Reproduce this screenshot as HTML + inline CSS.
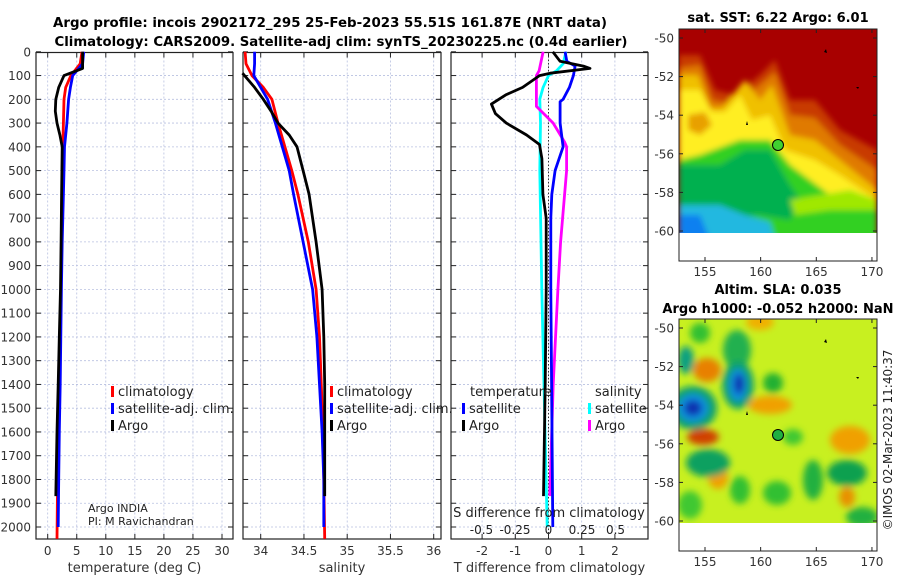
<!DOCTYPE html>
<html><head><meta charset="utf-8"><style>
html,body{margin:0;padding:0;background:#fff;}
svg{display:block;font-family:"DejaVu Sans","Liberation Sans",sans-serif;}
</style></head><body>
<svg id="fig" width="900" height="580" viewBox="0 0 900 580" xmlns="http://www.w3.org/2000/svg">
<defs>
<filter id="blur4" x="-20%" y="-20%" width="140%" height="140%"><feGaussianBlur stdDeviation="3"/></filter>
<filter id="blur6" x="-30%" y="-30%" width="160%" height="160%"><feGaussianBlur stdDeviation="3.5"/></filter>
<clipPath id="clipTop"><rect x="679" y="29" width="198" height="204"/></clipPath>
<clipPath id="clipBot"><rect x="679" y="319" width="198" height="204"/></clipPath>
</defs>
<text x="330" y="27" font-size="13" font-weight="bold" text-anchor="middle" textLength="554" lengthAdjust="spacingAndGlyphs">Argo profile: incois 2902172_295 25-Feb-2023 55.51S 161.87E (NRT data)</text>
<text x="341" y="46" font-size="13" font-weight="bold" text-anchor="middle" textLength="573" lengthAdjust="spacingAndGlyphs">Climatology: CARS2009. Satellite-adj clim: synTS_20230225.nc (0.4d earlier)</text>
<g id="panels"></g>

<!-- top SST map -->
<g>
<text x="778" y="22" font-size="13" font-weight="bold" text-anchor="middle">sat. SST: 6.22 Argo: 6.01</text>
<rect x="679" y="29" width="198" height="232" fill="#fff"/>
<g clip-path="url(#clipTop)">
<rect x="679" y="29" width="198" height="204" fill="#a80000"/>
<g filter="url(#blur4)">
<polygon fill="#c83a00" points="679,55 700,55 715,90 735,95 760,75 775,60 790,100 815,100 840,130 877,150 877,240 679,240"/>
<polygon fill="#e07a00" points="679,68 700,65 712,100 735,105 760,85 775,72 790,115 815,118 840,145 877,170 877,240 679,240"/>
<polygon fill="#f0c000" points="679,75 698,75 710,108 722,108 745,80 760,100 772,85 790,135 815,140 840,160 877,190 877,240 679,240"/>
<polygon fill="#ffee20" points="679,90 700,90 712,112 725,112 740,95 752,120 770,115 785,150 815,160 840,175 877,200 877,240 679,240"/>
<polygon fill="#e8a000" points="688,115 705,112 712,125 700,135 688,130"/>
<polygon fill="#30d020" points="679,160 700,155 740,140 770,140 790,165 810,180 830,195 877,205 877,240 679,240"/>
<polygon fill="#00b050" points="679,165 720,165 745,150 770,150 790,185 800,200 790,220 760,215 679,220"/>
<polygon fill="#a0e800" points="790,200 820,195 850,190 877,200 877,210 830,210 795,215"/>
<polygon fill="#20b8e0" points="679,205 720,205 745,215 770,222 775,240 679,240"/>
<polygon fill="#1080f0" points="679,215 700,215 710,240 679,240"/>
</g>
</g>
<circle cx="778" cy="145" r="5.5" fill="#40d030" stroke="#000" stroke-width="1"/>
<path d="M824,52 l2,-3 l1,4 z" fill="#000"/><path d="M856,87 l3,0 l-1,2 z" fill="#000"/><path d="M746,125 l1,-4 l1,4 z" fill="#000"/>
<rect x="679" y="29" width="198" height="232" fill="none" stroke="#222" stroke-width="1"/>
<g id="topMapTicks" font-size="12" fill="#333"></g>
</g>

<!-- bottom SLA map -->
<g>
<text x="778" y="294" font-size="13" font-weight="bold" text-anchor="middle">Altim. SLA: 0.035</text>
<text x="778" y="313" font-size="13" font-weight="bold" text-anchor="middle">Argo h1000: -0.052 h2000: NaN</text>
<rect x="679" y="319" width="198" height="232" fill="#fff"/>
<g clip-path="url(#clipBot)">
<rect x="679" y="319" width="198" height="204" fill="#c8f020"/>
<g filter="url(#blur6)">
<ellipse cx="707" cy="370" rx="14" ry="12" fill="#e88000"/>
<ellipse cx="703" cy="437" rx="16" ry="8" fill="#d04000"/>
<ellipse cx="770" cy="405" rx="22" ry="9" fill="#f0a000"/>
<ellipse cx="760" cy="322" rx="14" ry="8" fill="#f0b000"/>
<ellipse cx="850" cy="440" rx="20" ry="14" fill="#f0a000"/>
<ellipse cx="718" cy="477" rx="10" ry="12" fill="#f0a000"/>
<ellipse cx="847" cy="497" rx="8" ry="10" fill="#e89000"/>
<ellipse cx="700" cy="333" rx="10" ry="10" fill="#30c030"/>
<ellipse cx="737" cy="350" rx="14" ry="20" fill="#20b050"/>
<ellipse cx="773" cy="383" rx="10" ry="10" fill="#20b030"/>
<ellipse cx="708" cy="463" rx="22" ry="14" fill="#10a060"/>
<ellipse cx="847" cy="473" rx="20" ry="13" fill="#10a050"/>
<ellipse cx="813" cy="480" rx="10" ry="20" fill="#20b040"/>
<ellipse cx="777" cy="493" rx="14" ry="12" fill="#30c030"/>
<ellipse cx="740" cy="490" rx="10" ry="14" fill="#30c030"/>
<ellipse cx="862" cy="517" rx="16" ry="10" fill="#20b040"/>
<ellipse cx="690" cy="505" rx="12" ry="14" fill="#40c830"/>
<ellipse cx="793" cy="437" rx="10" ry="8" fill="#40c830"/>
<ellipse cx="686" cy="360" rx="8" ry="14" fill="#10a080"/>
<ellipse cx="693" cy="408" rx="24" ry="22" fill="#10a070"/>
<ellipse cx="738" cy="385" rx="16" ry="24" fill="#10a070"/>
<ellipse cx="693" cy="408" rx="15" ry="14" fill="#1090e0"/>
<ellipse cx="738" cy="385" rx="9" ry="16" fill="#1090e0"/>
<ellipse cx="693" cy="408" rx="9" ry="8" fill="#1030b0"/>
<ellipse cx="739" cy="384" rx="5" ry="10" fill="#1030b0"/>
</g>
</g>
<circle cx="778" cy="435" r="5.5" fill="#20b040" stroke="#000" stroke-width="1"/>
<path d="M824,342 l2,-3 l1,4 z" fill="#000"/><path d="M856,377 l3,0 l-1,2 z" fill="#000"/><path d="M746,415 l1,-4 l1,4 z" fill="#000"/>
<rect x="679" y="319" width="198" height="232" fill="none" stroke="#222" stroke-width="1"/>
<g id="botMapTicks" font-size="12" fill="#333"></g>
</g>
<text transform="translate(892,440) rotate(-90)" font-size="12" fill="#222" text-anchor="middle">©IMOS 02-Mar-2023 11:40:37</text>
</svg>
<script>
// ---- data ----
const depthTicks = [0,100,200,300,400,500,600,700,800,900,1000,1100,1200,1300,1400,1500,1600,1700,1800,1900,2000];
const tempTicks = [0,5,10,15,20,25,30];
const salTicks = [34,34.5,35,35.5,36];
const salTickLabels = ["34","34.5","35","35.5","36"];
const dTTicks = [-2,-1,0,1,2];
const dSTicks = [-0.5,-0.25,0,0.25,0.5];
const dSTickLabels = ["-0.5","-0.25","0","0.25","0.5"];

const climDepth = [0,50,100,150,200,300,400,500,600,800,1000,1200,1400,1600,1800,2050];
const tClim = [5.9,5.6,4.0,3.1,2.8,2.7,2.6,2.5,2.45,2.35,2.3,2.15,2.0,1.85,1.7,1.6];
const tSat = [6.2,6.0,4.3,3.9,3.6,3.3,2.9,2.8,2.7,2.5,2.35,2.25,2.15,2.0,1.9,1.8];
const argoDepth = [0,70,100,150,200,250,300,350,400,500,600,800,1000,1200,1400,1600,1870];
const tArgo = [6.0,6.0,2.8,1.9,1.4,1.3,1.6,2.1,2.5,2.45,2.4,2.3,2.2,2.0,1.8,1.6,1.4];

const sClim = [33.82,33.83,33.90,34.03,34.13,34.20,34.28,34.36,34.43,34.55,34.64,34.68,34.70,34.72,34.73,34.74];
const sSat = [33.93,33.93,33.92,34.00,34.08,34.17,34.25,34.33,34.38,34.49,34.60,34.65,34.68,34.71,34.73,34.73];
const sArgoDepth = [90,150,200,250,300,350,400,500,600,800,1000,1200,1400,1600,1870];
const sArgo = [33.79,33.93,34.03,34.12,34.20,34.33,34.42,34.49,34.56,34.64,34.71,34.73,34.74,34.74,34.74];

const dTArgoDepth = [0,40,60,70,90,100,150,180,220,260,300,350,390,450,600,700,1000,1400,1870];
const dTArgo = [0.13,0.35,1.05,1.25,0.05,-0.27,-0.78,-1.27,-1.72,-1.6,-1.27,-0.66,-0.27,-0.2,-0.17,-0.07,-0.07,-0.1,-0.15];
const dTSatDepth = [0,40,60,100,150,200,210,300,400,500,600,700,1000,1500,2000];
const dTSat = [0.5,0.55,0.8,0.75,0.63,0.44,0.35,0.35,0.44,0.2,0.1,0.07,0.07,0.1,0.13];
const dSSatDepth = [0,50,80,100,150,200,300,500,1000,1500,2000];
const dSSat = [0.13,0.11,0.06,0,-0.04,-0.065,-0.06,-0.065,-0.05,-0.03,-0.01];
const dSArgoDepth = [0,80,100,230,300,380,400,500,600,800,1000,1400,1870];
const dSArgo = [-0.04,-0.07,-0.09,-0.09,0.035,0.12,0.135,0.135,0.12,0.09,0.07,0.035,0.01];

const mapLonTicks = [155,160,165,170];
const mapLatTicks = [-50,-52,-54,-56,-58,-60];

// ---- scales ----
const NS = "http://www.w3.org/2000/svg";
const TOP = 52.5, BOT = 539;
const yD = d => 51.8 + d * 0.2376;
const xT = v => 47.7 + v * 5.81;
const xS = v => 260.7 + (v - 34) * 86.5;
const xDT = v => 548.5 + v * 33.2;
const xDS = v => 548.5 + v * 134;
const xLon = v => 705 + (v - 155) * 11.13;
const yLatTop = v => 38 + (-50 - v) * 19.3;
const yLatBot = v => 328 + (-50 - v) * 19.3;

function mk(tag, attrs, parent) {
  const e = document.createElementNS(NS, tag);
  for (const k in attrs) e.setAttribute(k, attrs[k]);
  parent.appendChild(e);
  return e;
}
const root = document.getElementById('panels');

function panel(name, x0, x1, xticks, xlabels, xs, xlabel) {
  const g = mk('g', {}, root);
  
  
  const grid = mk('g', {stroke: '#b8c0e0', 'stroke-width': 0.8, 'stroke-dasharray': '2,2'}, g);
  depthTicks.forEach(d => { if (d > 0) mk('line', {x1: x0, x2: x1, y1: yD(d), y2: yD(d)}, grid); });
  xticks.forEach(v => mk('line', {x1: xs(v), x2: xs(v), y1: TOP, y2: BOT}, grid));
  const tk = mk('g', {stroke: '#222', 'stroke-width': 1}, g);
  depthTicks.forEach(d => {
    mk('line', {x1: x0, x2: x0 + 5, y1: yD(d), y2: yD(d)}, tk);
    mk('line', {x1: x1 - 5, x2: x1, y1: yD(d), y2: yD(d)}, tk);
  });
  xticks.forEach(v => {
    mk('line', {x1: xs(v), x2: xs(v), y1: BOT, y2: BOT - 5}, tk);
    mk('line', {x1: xs(v), x2: xs(v), y1: TOP, y2: TOP + 5}, tk);
  });
  mk('rect', {x: x0, y: TOP, width: x1 - x0, height: BOT - TOP, fill: 'none', stroke: '#222', 'stroke-width': 1.2}, g);
  xticks.forEach((v, i) => {
    const t = mk('text', {x: xs(v), y: BOT + 16, 'font-size': 12, fill: '#333', 'text-anchor': 'middle'}, g);
    
    
    t.textContent = xlabels[i];
  });
  const xl = mk('text', {x: (x0 + x1) / 2, y: BOT + 33, 'font-size': 13, fill: '#333', 'text-anchor': 'middle'}, g);
  
  
  xl.textContent = xlabel;
  return g;
}
function line(g, name, xs, vals, depths, color) {
  const pts = vals.map((v, i) => xs(v).toFixed(1) + ',' + yD(depths[i]).toFixed(1)).join(' ');
  const p = mk('polyline', {points: pts, fill: 'none', stroke: color, 'stroke-width': 2.8, 'stroke-linejoin': 'round'}, g);
  
  
}
function legendItem(g, name, x, y, color, label) {
  const gi = mk('g', {}, g);
  
  
  mk('rect', {x: x, y: y - 10, width: 3, height: 11, fill: color}, gi);
  const t = mk('text', {x: x + 7, y: y, 'font-size': 13, fill: '#222'}, gi);
  t.textContent = label;
}

// Panel 1: temperature
const p1 = panel('temperature-panel', 36, 233, tempTicks, tempTicks.map(String), xT, 'temperature (deg C)');
depthTicks.forEach(d => {
  const t = mk('text', {x: 31, y: yD(d) + 4.5, 'font-size': 12, fill: '#333', 'text-anchor': 'end'}, p1);
  
  
  t.textContent = d;
});
line(p1, 'temp-climatology-line', xT, tClim, climDepth, '#f00');
line(p1, 'temp-satellite-adj-line', xT, tSat, climDepth.slice(0, 15).concat([2000]), '#00f');
line(p1, 'temp-argo-line', xT, tArgo, argoDepth, '#000');
legendItem(p1, 'legend-climatology', 111, 396, '#f00', 'climatology');
legendItem(p1, 'legend-satellite-adj', 111, 413, '#00f', 'satellite-adj. clim.');
legendItem(p1, 'legend-argo', 111, 430, '#000', 'Argo');
const a1 = mk('text', {x: 88, y: 512, 'font-size': 11, fill: '#222'}, p1); a1.textContent = 'Argo INDIA';
 
const a2 = mk('text', {x: 88, y: 525, 'font-size': 11, fill: '#222'}, p1); a2.textContent = 'PI: M Ravichandran';
 

// Panel 2: salinity
const p2 = panel('salinity-panel', 243, 441, salTicks, salTickLabels, xS, 'salinity');
line(p2, 'sal-climatology-line', xS, sClim, climDepth, '#f00');
line(p2, 'sal-satellite-adj-line', xS, sSat, climDepth.slice(0, 15).concat([2000]), '#00f');
line(p2, 'sal-argo-line', xS, sArgo, sArgoDepth, '#000');
legendItem(p2, 'legend-climatology-2', 330, 396, '#f00', 'climatology');
legendItem(p2, 'legend-satellite-adj-2', 330, 413, '#00f', 'satellite-adj. clim.');
legendItem(p2, 'legend-argo-2', 330, 430, '#000', 'Argo');

// Panel 3: differences
const p3 = panel('difference-panel', 451, 648, dTTicks, dTTicks.map(String), xDT, 'T difference from climatology');
mk('line', {x1: xDT(0), x2: xDT(0), y1: TOP, y2: BOT, stroke: '#333', 'stroke-width': 1, 'stroke-dasharray': '1.5,2'}, p3);
line(p3, 'dsal-satellite-line', xDS, dSSat, dSSatDepth, '#0ff');
line(p3, 'dsal-argo-line', xDS, dSArgo, dSArgoDepth, '#f0f');
line(p3, 'dtemp-satellite-line', xDT, dTSat, dTSatDepth, '#00f');
line(p3, 'dtemp-argo-line', xDT, dTArgo, dTArgoDepth, '#000');
const st = mk('text', {x: 549, y: 517, 'font-size': 13, fill: '#222', 'text-anchor': 'middle'}, p3);
 
st.textContent = 'S difference from climatology';
dSTicks.forEach((v, i) => {
  const t = mk('text', {x: xDS(v), y: 534, 'font-size': 12, fill: '#222', 'text-anchor': 'middle'}, p3);
   
  t.textContent = dSTickLabels[i];
});
const lt = mk('text', {x: 470, y: 396, 'font-size': 13, fill: '#222'}, p3); lt.textContent = 'temperature';
 
const ls = mk('text', {x: 595, y: 396, 'font-size': 13, fill: '#222'}, p3); ls.textContent = 'salinity';
 
legendItem(p3, 'legend-temp-satellite', 462, 413, '#00f', 'satellite');
legendItem(p3, 'legend-temp-argo', 462, 430, '#000', 'Argo');
legendItem(p3, 'legend-sal-satellite', 588, 413, '#0ff', 'satellite');
legendItem(p3, 'legend-sal-argo', 588, 430, '#f0f', 'Argo');

// Map ticks
function mapTicks(gid, yLat, top, bottom) {
  const g = document.getElementById(gid);
  mapLonTicks.forEach(v => {
    mk('line', {x1: xLon(v), x2: xLon(v), y1: bottom, y2: bottom - 4, stroke: '#222'}, g);
    mk('line', {x1: xLon(v), x2: xLon(v), y1: top, y2: top + 4, stroke: '#222'}, g);
    const t = mk('text', {x: xLon(v), y: bottom + 15, 'text-anchor': 'middle'}, g);
     
    t.textContent = v;
  });
  mapLatTicks.forEach(v => {
    mk('line', {x1: 679, x2: 683, y1: yLat(v), y2: yLat(v), stroke: '#222'}, g);
    mk('line', {x1: 873, x2: 877, y1: yLat(v), y2: yLat(v), stroke: '#222'}, g);
    const t = mk('text', {x: 674, y: yLat(v) + 4.5, 'text-anchor': 'end'}, g);
     
    t.textContent = v;
  });
}
mapTicks('topMapTicks', yLatTop, 29, 261);
mapTicks('botMapTicks', yLatBot, 319, 551);
</script>
</body></html>
